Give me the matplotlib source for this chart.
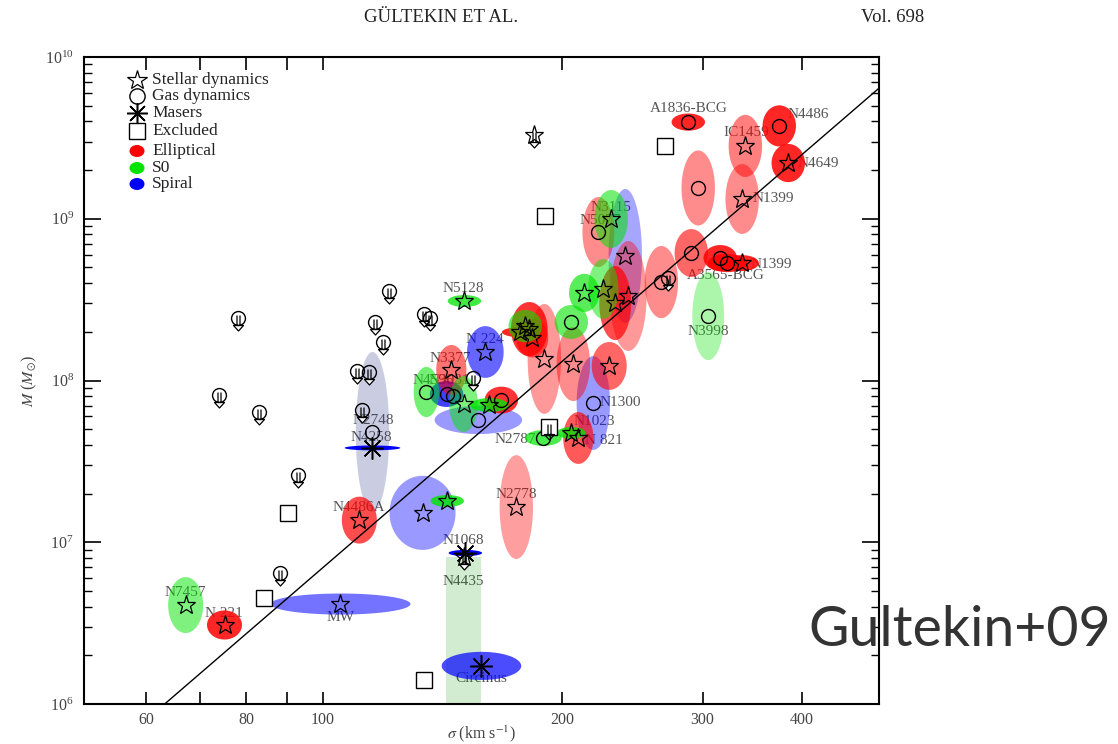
import numpy as np
import matplotlib
matplotlib.use("Agg")
import matplotlib.pyplot as plt
from matplotlib.path import Path
from matplotlib.patches import Ellipse
from matplotlib.ticker import FixedLocator, FixedFormatter, NullLocator, LogLocator, NullFormatter

# ---------------- data ----------------
# error ellipses: sigma [km/s], mass [Msun], half-width in dex (sigma), half-height in dex (mass)
ell_sigma = [105.2, 133.4, 158.2, 239.9, 218.7, 160.0, 143.0, 156.8, 115.4, 151.0,
             75.2, 111.1, 175.0, 287.9, 374.6, 339.6, 384.5, 296.3, 336.5, 290.4,
             315.8, 322.3, 336.5, 266.3, 221.9, 242.0, 233.0, 189.8, 206.4, 229.0,
             209.4, 181.7, 177.0, 183.3, 145.0, 167.6,
             67.2, 143.3, 305.0, 230.3, 225.1, 213.0, 205.2, 205.2, 189.2, 179.6,
             150.6, 134.9, 150.2, 161.9]
ell_mass = [4.15e6, 1.52e7, 1.72e6, 5.89e8, 7.26e7, 1.50e8, 8.25e7, 5.70e7, 3.83e7, 8.58e6,
            3.08e6, 1.37e7, 1.65e7, 3.96e9, 3.75e9, 2.82e9, 2.21e9, 1.55e9, 1.325e9, 6.14e8,
            5.72e8, 5.32e8, 5.32e8, 4.06e8, 8.28e8, 3.33e8, 3.01e8, 1.36e8, 1.265e8, 1.23e8,
            4.41e7, 2.08e8, 1.99e8, 1.83e8, 1.16e8, 7.57e7,
            4.09e6, 1.80e7, 2.50e8, 9.97e8, 3.68e8, 3.48e8, 2.30e8, 4.74e7, 4.41e7, 2.17e8,
            3.10e8, 8.49e7, 7.16e7, 7.05e7]
ell_dsig = [0.088, 0.0415, 0.050, 0.021, 0.021, 0.023, 0.021, 0.055, 0.035, 0.021,
            0.022, 0.022, 0.021, 0.021, 0.021, 0.021, 0.021, 0.021, 0.021, 0.021,
            0.021, 0.025, 0.021, 0.021, 0.020, 0.023, 0.020, 0.021, 0.021, 0.022,
            0.019, 0.023, 0.023, 0.020, 0.019, 0.021,
            0.022, 0.021, 0.020, 0.021, 0.019, 0.019, 0.021, 0.018, 0.023, 0.021,
            0.021, 0.016, 0.018, 0.024]
ell_dmass = [0.065, 0.229, 0.087, 0.414, 0.29, 0.16, 0.08, 0.087, 0.015, 0.019,
             0.090, 0.145, 0.321, 0.053, 0.127, 0.192, 0.118, 0.232, 0.216, 0.148,
             0.080, 0.056, 0.049, 0.223, 0.216, 0.34, 0.229, 0.34, 0.229, 0.148,
             0.16, 0.167, 0.031, 0.12, 0.155, 0.083,
             0.173, 0.037, 0.272, 0.179, 0.185, 0.118, 0.105, 0.037, 0.049, 0.10,
             0.037, 0.155, 0.173, 0.043]
ell_type = ["S"] * 10 + ["E"] * 26 + ["S0"] * 14
ell_alpha = [0.55, 0.4, 0.7, 0.35, 0.4, 0.6, 0.75, 0.4, 1.0, 1.0,
             0.85, 0.7, 0.38, 0.85, 0.85, 0.5, 0.85, 0.45, 0.45, 0.6,
             0.85, 0.85, 0.85, 0.45, 0.45, 0.4, 0.7, 0.4, 0.45, 0.6,
             0.65, 0.8, 0.85, 0.6, 0.55, 0.8,
             0.5, 0.8, 0.33, 0.55, 0.5, 0.65, 0.6, 0.8, 0.7, 0.6,
             0.75, 0.55, 0.5, 0.8]

# NGC 2748 (faded ellipse)
n2748_sigma, n2748_mass, n2748_dsig, n2748_dmass = 115.4, 4.8e7, 0.021, 0.495
# NGC 4435 upper-limit band
n4435_sigma_range = [142.9, 158.2]
n4435_mass_limit = 8.1e6

star_sigma = [67.2, 75.2, 105.2, 111.1, 133.4, 143.3, 175.0, 339.6, 384.5, 336.5,
              336.5, 230.3, 239.9, 242.0, 233.0, 225.1, 213.0, 189.8, 206.4, 229.0,
              205.2, 209.4, 179.6, 177.0, 183.3, 181.7, 160.0, 150.6, 145.0, 150.2, 161.9]
star_mass = [4.09e6, 3.08e6, 4.15e6, 1.37e7, 1.52e7, 1.80e7, 1.65e7, 2.82e9, 2.21e9, 1.325e9,
             5.32e8, 9.97e8, 5.89e8, 3.33e8, 3.01e8, 3.68e8, 3.48e8, 1.36e8, 1.265e8, 1.23e8,
             4.74e7, 4.41e7, 2.17e8, 1.99e8, 1.83e8, 2.08e8, 1.50e8, 3.10e8, 1.16e8, 7.16e7, 7.05e7]

gas_sigma = [287.9, 374.6, 296.3, 290.4, 315.8, 322.3, 266.3, 305.0, 221.9, 205.2,
             218.7, 189.2, 134.9, 143.0, 145.9, 156.8, 167.6, 115.4]
gas_mass = [3.96e9, 3.75e9, 1.55e9, 6.14e8, 5.72e8, 5.32e8, 4.06e8, 2.50e8, 8.28e8, 2.30e8,
            7.26e7, 4.41e7, 8.49e7, 8.25e7, 8.0e7, 5.70e7, 7.57e7, 4.8e7]

maser_sigma = [115.4, 151.0, 158.2]
maser_mass = [3.83e7, 8.58e6, 1.72e6]

ul_gas_sigma = [78.3, 74.1, 83.2, 93.1, 88.2, 121.2, 116.1, 119.1, 110.2, 114.4,
                112.1, 134.1, 136.5, 154.6, 271.6]
ul_gas_mass = [2.43e8, 8.13e7, 6.38e7, 2.6e7, 6.46e6, 3.58e8, 2.30e8, 1.73e8, 1.145e8, 1.13e8,
               6.57e7, 2.58e8, 2.43e8, 1.04e8, 4.30e8]

ul_star_sigma = [184.4, 150.2]
ul_star_mass = [3.29e9, 8.1e6]

excl_sigma = [134.1, 84.2, 90.3, 269.4, 190.3, 192.5]
excl_mass = [1.41e6, 4.52e6, 1.52e7, 2.82e9, 1.04e9, 5.16e7]
excl_ul_sigma = [192.5]
excl_ul_mass = [5.16e7]

# galaxy labels: text, sigma, mass, alignment
lab_text = ["A1836-BCG", "N4486", "IC1459", "N4649", "N1399", "N3115", "N5077", "N1399",
            "A3565-BCG", "N3998", "N5128", "N 224", "N3377", "N4596", "N3031", "N2748",
            "N4258", "N1300", "N1023", "N 821", "N2787", "N2778", "N4486A", "N1068",
            "N4435", "N7457", "N 221", "MW", "Circinus"]
lab_sigma = [287.9, 383.4, 340.4, 394.7, 346.4, 230.3, 210.0, 344.4,
             321.3, 305.0, 150.2, 160.0, 144.6, 137.6, 144.2, 115.7,
             115.1, 222.5, 206.4, 213.7, 185.4, 175.0, 110.8, 150.2,
             150.2, 67.2, 75.0, 105.2, 158.2]
lab_mass = [4.77e9, 4.44e9, 3.39e9, 2.21e9, 1.325e9, 1.166e9, 9.82e8, 5.25e8,
            4.43e8, 2.02e8, 3.68e8, 1.78e8, 1.377e8, 1.007e8, 9.93e7, 5.62e7,
            4.47e7, 7.26e7, 5.54e7, 4.23e7, 4.29e7, 1.96e7, 1.63e7, 1.02e7,
            5.68e6, 4.92e6, 3.65e6, 3.45e6, 1.43e6]
lab_ha = ["center", "left", "center", "left", "left", "center", "left", "left",
          "center", "center", "center", "center", "center", "center", "center", "center",
          "center", "left", "left", "left", "right", "center", "center", "center",
          "center", "center", "center", "center", "center"]

# M-sigma relation
fit_norm, fit_slope, fit_sigma0 = 8.12, 4.24, 200.0

legend_labels = ["Stellar dynamics", "Gas dynamics", "Masers", "Excluded",
                 "Elliptical", "S0", "Spiral"]

# ---------------- style ----------------
plt.rcParams["font.family"] = ["Liberation Serif", "DejaVu Serif"]
plt.rcParams["mathtext.fontset"] = "stix"
TXT = "#444444"
type_color = {"E": "#ff0000", "S0": "#00e400", "S": "#0000ff"}

W, H = 1118, 744
fig = plt.figure(figsize=(W / 100, H / 100), dpi=100)
ax = fig.add_axes([83.5 / W, 40 / H, 795.5 / W, 647 / H])
ax.set_xscale("log")
ax.set_yscale("log")
ax.set_xlim(50, 500)
ax.set_ylim(1e6, 1e10)

t = np.linspace(0, 2 * np.pi, 120)


def draw_ellipse(s, m, ds, dm, color, alpha, z=2):
    xs = 10 ** (np.log10(s) + ds * np.cos(t))
    ys = 10 ** (np.log10(m) + dm * np.sin(t))
    ax.fill(xs, ys, color=color, alpha=alpha, lw=0, zorder=z)


# labels (under the ellipses)
for txt, s, m, ha in zip(lab_text, lab_sigma, lab_mass, lab_ha):
    ax.text(s, m, txt, ha=ha, va="center", fontsize=11, color="#555555", zorder=1)

# N4435 band
ax.fill([n4435_sigma_range[0], n4435_sigma_range[1], n4435_sigma_range[1], n4435_sigma_range[0]],
        [5e5, 5e5, n4435_mass_limit, n4435_mass_limit], color="#009600", alpha=0.18, lw=0, zorder=1.2)
# N2748 faded ellipse
draw_ellipse(n2748_sigma, n2748_mass, n2748_dsig, n2748_dmass, "#33408c", 0.26, z=1.3)

for s, m, ds, dm, ty, a in zip(ell_sigma, ell_mass, ell_dsig, ell_dmass, ell_type, ell_alpha):
    draw_ellipse(s, m, ds, dm, type_color[ty], a)

# fit line
sig_line = np.array([50.0, 500.0])
ax.plot(sig_line, 10 ** (fit_norm + fit_slope * np.log10(sig_line / fit_sigma0)),
        color="black", lw=1.0, zorder=3)

# arrow marker for upper limits
arrow_path = Path([(-1.5, 3), (-1.5, -7), (1.5, 3), (1.5, -7),
                   (-5, -7), (5, -7), (0, -12.5), (-5, -7)],
                  [Path.MOVETO, Path.LINETO, Path.MOVETO, Path.LINETO,
                   Path.MOVETO, Path.LINETO, Path.LINETO, Path.CLOSEPOLY])
arrow_ms = 2 * 12.5 * 0.72

mk = dict(linestyle="none", mec="black", mfc="none", zorder=4)
ax.plot(star_sigma, star_mass, marker="*", ms=14, mew=0.9, **mk)
ax.plot(gas_sigma, gas_mass, marker="o", ms=10, mew=1.0, **mk)
ax.plot(maser_sigma, maser_mass, marker=(8, 2, 0), ms=16, mew=1.1, **mk)
ax.plot(ul_gas_sigma, ul_gas_mass, marker="o", ms=10, mew=1.0, **mk)
ax.plot(ul_gas_sigma, ul_gas_mass, marker=arrow_path, ms=arrow_ms, mew=0.9, linestyle="none",
        mec="black", mfc="white", zorder=3.9)
ax.plot(ul_star_sigma, ul_star_mass, marker="*", ms=14, mew=0.9, **mk)
ax.plot(ul_star_sigma, ul_star_mass, marker=arrow_path, ms=arrow_ms, mew=0.9, linestyle="none",
        mec="black", mfc="white", zorder=3.9)
ax.plot(excl_sigma, excl_mass, marker="s", ms=11, mew=1.0, linestyle="none",
        mec="black", mfc="white", zorder=4)
ax.plot(excl_ul_sigma, excl_ul_mass, marker=arrow_path, ms=arrow_ms, mew=0.9, linestyle="none",
        mec="black", mfc="none", zorder=4.1)

# ---------------- legend (manual) ----------------
def axc(px, py):
    return ((px - 83.5) / 795.5, (704 - py) / 647)

leg_y = [80, 96, 113, 131, 151, 168, 184]
lx = 137
for i, (lab, py) in enumerate(zip(legend_labels, leg_y)):
    xa, ya = axc(lx, py)
    if i == 0:
        ax.plot([xa], [ya], transform=ax.transAxes, marker="*", ms=15, mew=0.9, **mk)
    elif i == 1:
        ax.plot([xa], [ya], transform=ax.transAxes, marker="o", ms=11, mew=1.0, **mk)
    elif i == 2:
        ax.plot([xa], [ya], transform=ax.transAxes, marker=(8, 2, 0), ms=15, mew=1.1, **mk)
    elif i == 3:
        ax.plot([xa], [ya], transform=ax.transAxes, marker="s", ms=11, mew=1.0, **mk)
    else:
        col = type_color[["E", "S0", "S"][i - 4]]
        ax.add_patch(Ellipse((xa, ya), 15 / 795.5, 12 / 647, transform=ax.transAxes,
                             color=col, lw=0, zorder=5))
    tx, _ = axc(152, py)
    ax.text(tx, ya, lab, transform=ax.transAxes, ha="left", va="center",
            fontsize=12.5, color="#222222", zorder=5)

# ---------------- axes styling ----------------
ax.xaxis.set_major_locator(FixedLocator([60, 70, 80, 90, 100, 200, 300, 400]))
ax.xaxis.set_major_formatter(FixedFormatter(["60", "", "80", "", "100", "200", "300", "400"]))
ax.xaxis.set_minor_locator(NullLocator())
ax.yaxis.set_major_locator(LogLocator(base=10, numticks=10))
ax.yaxis.set_minor_locator(LogLocator(base=10, subs=np.arange(2, 10), numticks=20))
ax.yaxis.set_minor_formatter(NullFormatter())
ax.tick_params(which="both", direction="in", top=True, right=True, colors="black",
               labelcolor=TXT, labelsize=11.5)
ax.tick_params(axis="x", which="major", length=9, width=1.2, pad=6)
ax.tick_params(axis="y", which="major", length=12.5, width=1.2, pad=7)
ax.tick_params(axis="y", which="minor", length=6, width=1.0)
for sp in ax.spines.values():
    sp.set_linewidth(1.5)

fig.text(481 / W, 1 - 734 / H, r"$\sigma$ (km s$^{-1}$)", ha="center", va="center",
         fontsize=11.5, color=TXT)
ax.set_ylabel(r"$M$ ($M_{\odot}$)", fontsize=11.5, color=TXT, labelpad=4)

# header / annotations
fig.text(441 / W, 1 - 18 / H, "GÜLTEKIN ET AL.", ha="center", va="center", fontsize=13.5, color="#222222")
fig.text(893 / W, 1 - 18 / H, "Vol. 698", ha="center", va="center", fontsize=13.5, color="#222222")
fig.text(808 / W, 1 - 630 / H, "Gultekin+09", ha="left", va="center", fontsize=40,
         color="#333333", family=["Lato", "DejaVu Sans"])

fig.savefig("out.png", dpi=100)
